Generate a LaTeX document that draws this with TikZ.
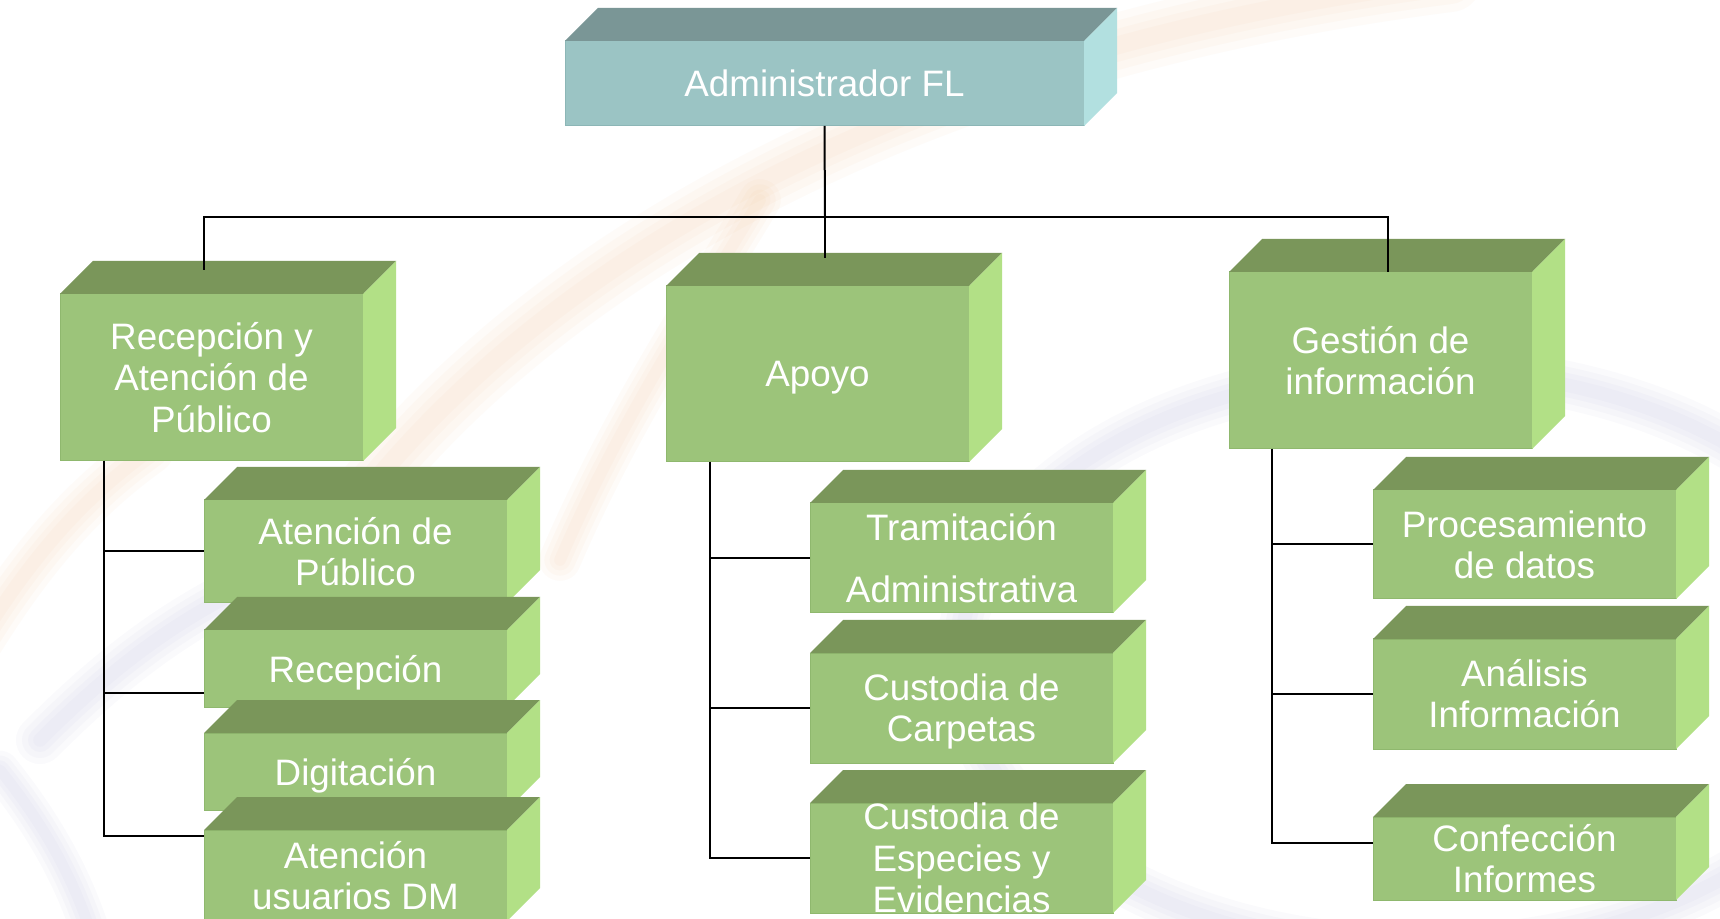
\documentclass[tikz,border=0pt]{standalone}
\usepackage{fontspec}
\setmainfont{Liberation Sans}
\usetikzlibrary{calc}
\definecolor{gfront}{HTML}{9CC47A}
\definecolor{gtop}{HTML}{7A965A}
\definecolor{gside}{HTML}{B2E086}
\definecolor{gedge}{HTML}{8FB86E}
\definecolor{tfront}{HTML}{9BC4C4}
\definecolor{ttop}{HTML}{7A9696}
\definecolor{tside}{HTML}{B2E0E0}
\definecolor{tedge}{HTML}{8CB6B6}
\definecolor{wmo}{HTML}{F3A55A}
\definecolor{wmp}{HTML}{8A8AC8}
\tikzset{
  face-green/.style={fill=gfront, draw=gedge, line width=0.5pt},
  top-green/.style={fill=gtop},
  side-green/.style={fill=gside},
  face-teal/.style={fill=tfront, draw=tedge, line width=0.5pt},
  top-teal/.style={fill=ttop},
  side-teal/.style={fill=tside},
  lbl/.style={text=white, font=\fontsize{18.4}{20.6}\selectfont, align=center, inner sep=0pt},
  conn/.style={draw=black, line width=1pt},
  wm/.style={line cap=round, opacity=0.04},
}
\newcommand\nodepth[1]{\raisebox{0pt}[\height][0pt]{#1}}
\newcommand\cubebox[7][green]{%
  \pgfmathsetmacro\cbw{(#5-#3)*0.5}%
  \pgfmathsetmacro\cbh{(#6-#4)*0.5}%
  \node[face-#1, inner sep=0pt, outer sep=0pt, minimum width=\cbw pt, minimum height=\cbh pt] (#2) at ({(#3+#5)/2},{(#4+#6)/2}) {};
  \fill[top-#1] (#2.north west) -- ++(33,-33) -- ($(#2.north east)+(33,-33)$) -- (#2.north east) -- cycle;
  \fill[side-#1] (#2.north east) -- ++(33,-33) -- ($(#2.south east)+(33,-33)$) -- (#2.south east) -- cycle;
  \node[lbl] (#2-t) at (#2.center) {#7};
}
\newcommand\softstroke[3]{% colour, base width (px), path
  \foreach \k in {1.6,1.2,0.8,0.45}{\draw[wm, #1, line width=#2*\k*0.5pt] #3;}%
}
\begin{document}
\begin{tikzpicture}[x=0.5pt, y=-0.5pt]
\useasboundingbox (0,0) rectangle (1720,919);
\clip (0,0) rectangle (1720,919);
\fill[white] (0,0) rectangle (1720,919);
% faint watermark
\softstroke{wmo}{40}{(330,540) .. controls (520,270) and (900,50) .. (1450,-20)}
\softstroke{wmo}{30}{(-20,640) .. controls (30,560) and (80,500) .. (150,450)}
\softstroke{wmo}{26}{(560,560) .. controls (620,420) and (700,300) .. (760,200)}
\softstroke{wmp}{30}{(1420,660) ellipse [x radius=460, y radius=290]}
\softstroke{wmp}{30}{(40,740) .. controls (100,680) and (160,630) .. (240,590)}
\softstroke{wmp}{24}{(0,770) .. controls (40,820) and (70,870) .. (90,930)}
% boxes
\cubebox[teal]{adm}{565}{41}{1084}{126}{Administrador FL}
\cubebox{R}{60}{294}{363}{461}{Recepción y\\Atención de\\Público}
\cubebox{apoyo}{666}{286}{969}{462}{\nodepth{Apoyo}}
\cubebox{ges}{1229}{272}{1532}{449}{Gestión de\\información}
\cubebox{ap}{204}{500}{507}{603}{Atención de\\Público}
\cubebox{rec}{204}{630}{507}{707}{\nodepth{Recepción}}
\cubebox{dig}{204}{733}{507}{810}{\nodepth{Digitación}}
\cubebox{audm}{204}{830}{507}{921}{Atención\\usuarios DM}
\cubebox{tram}{810}{503}{1113}{613}{Tramitación\\[10.5pt]Administrativa}
\cubebox{cc}{810}{653}{1113}{763}{Custodia de\\\nodepth{Carpetas}}
\cubebox{ce}{810}{803}{1113}{913}{Custodia de\\Especies y\\Evidencias}
\cubebox{proc}{1373}{490}{1676}{599}{Procesamiento\\de datos}
\cubebox{an}{1373}{639}{1676}{749}{Análisis\\Información}
\cubebox{conf}{1373}{817}{1676}{900}{Confección\\Informes}
% connectors
\coordinate (bus) at (825,217);
\coordinate (Rtop) at ($(R.north west)+(144,-24)$);
\coordinate (Atop) at ($(apoyo.north west)+(159,-28)$);
\coordinate (Gtop) at ($(ges.north west)+(159,0)$);
\draw[conn] (adm.south) -- (bus);
\draw[conn] (Rtop) -- (Rtop |- bus) -- (Gtop |- bus) -- (Gtop);
\draw[conn] (bus) -- (Atop);
\coordinate (Rleg) at ($(R.south west)+(44,0)$);
\draw[conn] (Rleg) |- (ap.west);
\draw[conn] (Rleg) |- ($(rec.south west)+(0,-14)$);
\draw[conn] (Rleg) |- ($(audm.north west)+(0,6)$);
\coordinate (Aleg) at ($(apoyo.south west)+(44,0)$);
\draw[conn] (Aleg) |- (tram.west);
\draw[conn] (Aleg) |- (cc.west);
\draw[conn] (Aleg) |- (ce.west);
\coordinate (Gleg) at ($(ges.south west)+(43,0)$);
\draw[conn] (Gleg) |- (proc.west);
\draw[conn] (Gleg) |- (an.west);
\draw[conn] (Gleg) |- ($(conf.north west)+(0,26)$);
\end{tikzpicture}
\end{document}
